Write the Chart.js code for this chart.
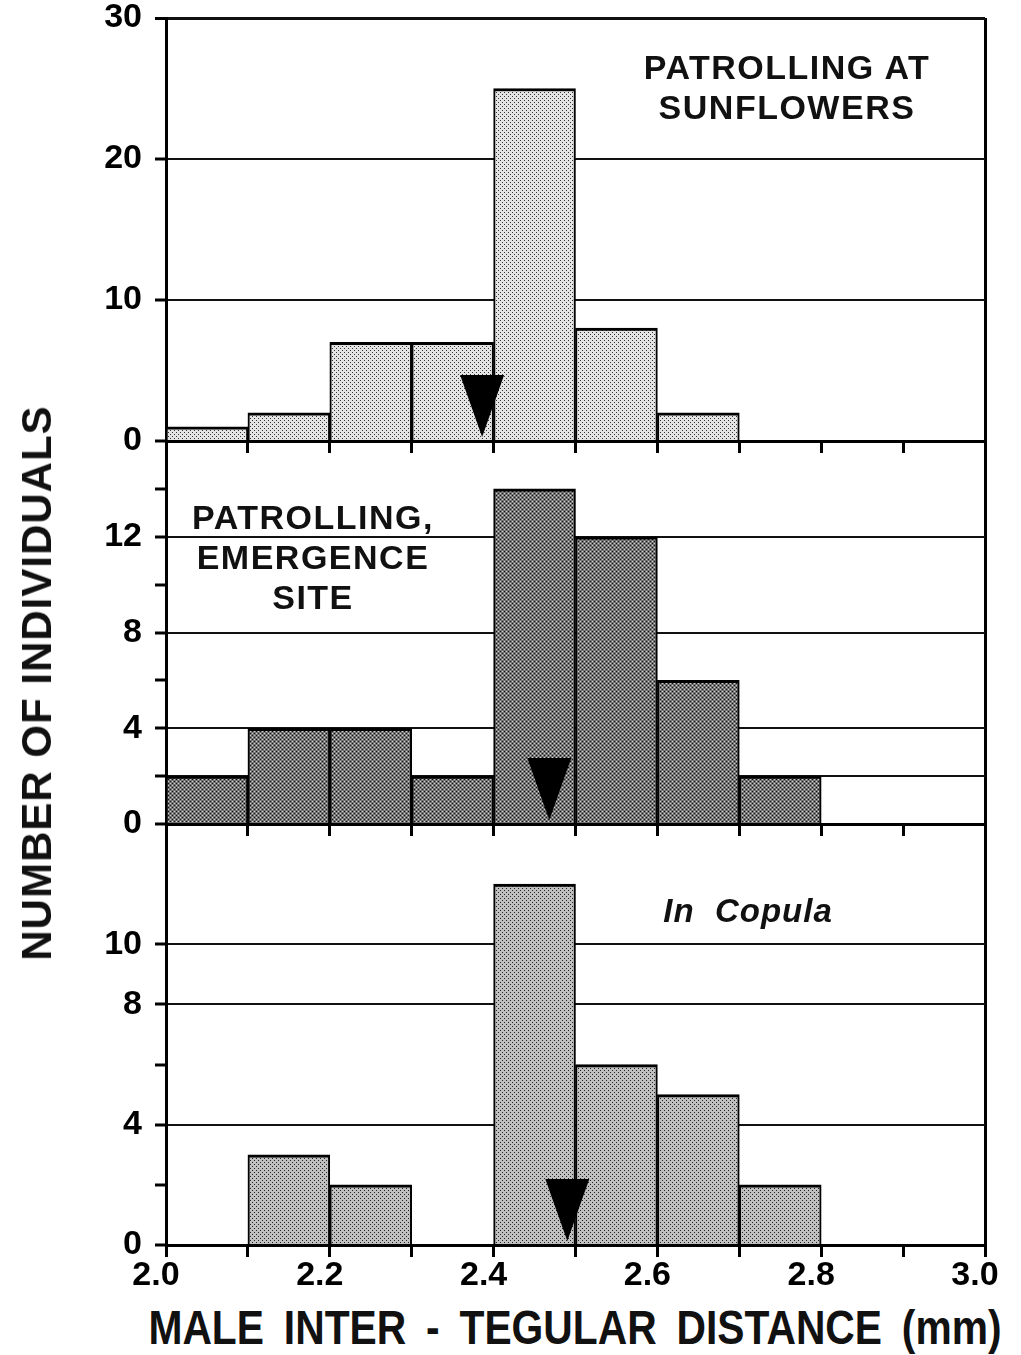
<!DOCTYPE html>
<html>
<head>
<meta charset="utf-8">
<title>Male inter-tegular distance</title>
<script src="https://cdn.jsdelivr.net/npm/chart.js@4.4.1/dist/chart.umd.min.js"></script>
<style>
  body { margin: 0; background: #fff; }
  #page { position: relative; width: 1021px; height: 1355px; overflow: hidden;
          font-family: 'Liberation Sans', Arial, sans-serif; color: #111; }
  canvas { position: absolute; }
  .note { position: absolute; font-weight: bold; white-space: nowrap; text-align: center;
          letter-spacing: 1.5px; font-size: 34px; line-height: 40px; z-index: 5; }
  #ytitle { position: absolute; left: 37px; top: 683px; font-weight: bold; font-size: 42px;
            letter-spacing: 1px; white-space: nowrap; transform: translate(-50%, -50%) rotate(-90deg); }
  #xtitle { position: absolute; left: 575px; top: 1327px; font-weight: bold; font-size: 48px;
            word-spacing: 10px; white-space: nowrap; transform: translate(-50%, -50%) scaleX(0.85); }
</style>
</head>
<body>
<div id="page">
  <canvas id="sunflowers" width="959" height="491" style="left:56px; top:-16px"></canvas>
  <canvas id="emergence" width="959" height="451" style="left:56px; top:407px"></canvas>
  <canvas id="copula" width="959" height="505" style="left:56px; top:790px"></canvas>

  <div class="note" style="left:787px; top:47px; transform:translateX(-50%)">PATROLLING AT<br>SUNFLOWERS</div>
  <div class="note" style="left:313px; top:497px; transform:translateX(-50%)">PATROLLING,<br>EMERGENCE<br>SITE</div>
  <div class="note" style="left:748px; top:891px; transform:translateX(-50%); font-style:italic; letter-spacing:1px; font-size:33px">In&nbsp; Copula</div>

  <div id="ytitle">NUMBER OF INDIVIDUALS</div>
  <div id="xtitle">MALE INTER - TEGULAR DISTANCE (mm)</div>
</div>

<script>
// histogram bins (mm), 0.1 wide
const binCentres = [2.05, 2.15, 2.25, 2.35, 2.45, 2.55, 2.65, 2.75, 2.85, 2.95];
const sunflowerCounts = [1, 2, 7, 7, 25, 8, 2, 0, 0, 0];
const emergenceCounts = [2, 4, 4, 2, 14, 12, 6, 2, 0, 0];
const copulaCounts = [0, 3, 2, 0, 12, 6, 5, 2, 0, 0];

// mean inter-tegular distance for each group (arrows)
const meanSizes = [2.386, 2.468, 2.490];

// x axis
const xTickValues = [2.0, 2.1, 2.2, 2.3, 2.4, 2.5, 2.6, 2.7, 2.8, 2.9, 3.0];
const xTickLabels = ['2.0', '', '2.2', '', '2.4', '', '2.6', '', '2.8', '', '3.0'];

// y axes: tick marks, labelled ticks, ruled lines
const sunflowerYTicks = [0, 10, 20, 30];
const sunflowerYLabels = [0, 10, 20, 30];
const sunflowerYGrid = [10, 20, 30];

const emergenceYTicks = [0, 2, 4, 6, 8, 10, 12, 14];
const emergenceYLabels = [0, 4, 8, 12];
const emergenceYGrid = [2, 4, 8, 12];

const copulaYTicks = [0, 2, 4, 6, 8, 10];
const copulaYLabels = [0, 4, 8, 10];
const copulaYGrid = [4, 8, 10];

const tickFont = "'Liberation Sans', Arial, sans-serif";

// stippled fill like a halftone screen
function stipple(bg, dot, light) {
    const c = document.createElement('canvas');
    c.width = 4; c.height = 4;
    const g = c.getContext('2d');
    g.fillStyle = bg;
    g.fillRect(0, 0, 4, 4);
    g.fillStyle = dot;
    g.fillRect(0, 0, 1, 1);
    g.fillRect(2, 2, 1, 1);
    if (light) {
        g.fillStyle = light;
        g.fillRect(2, 0, 1, 1);
        g.fillRect(0, 2, 1, 1);
    }
    return g.createPattern(c, 'repeat');
}

// black arrow marking the mean, tip resting on the baseline
const meanArrow = {
    id: 'meanArrow',
    afterDatasetsDraw(chart, args, opts) {
        const x = chart.scales.x.getPixelForValue(opts.value);
        const y = chart.scales.y.getPixelForValue(0);
        const ctx = chart.ctx;
        ctx.save();
        ctx.fillStyle = '#000';
        ctx.beginPath();
        ctx.moveTo(x, y - 4);
        ctx.lineTo(x - 22, y - 66);
        ctx.lineTo(x + 22, y - 66);
        ctx.closePath();
        ctx.fill();
        ctx.restore();
    }
};

// the y tick labels reserve about 32px above and below the plot area,
// so the padding and x axis height are set just above that
function makePanel(id, counts, fill, yMax, yTicks, yLabels, yGrid, mean, showX) {
    const ctx = document.getElementById(id).getContext('2d');
    return new Chart(ctx, {
        type: 'bar',
        data: {
            datasets: [{
                data: binCentres.map((x, i) => ({ x: x, y: counts[i] })),
                backgroundColor: fill,
                borderColor: '#000',
                borderWidth: { top: 3, left: 2, right: 2, bottom: 0 },
                borderSkipped: 'start',
                barPercentage: 1,
                categoryPercentage: 1
            }]
        },
        options: {
            responsive: false,
            animation: false,
            layout: { padding: { top: 34, right: 30, left: 0, bottom: 0 } },
            plugins: {
                legend: { display: false },
                tooltip: { enabled: false },
                meanArrow: { value: mean }
            },
            scales: {
                x: {
                    type: 'linear',
                    min: 2.0,
                    max: 3.0,
                    offset: false,
                    afterBuildTicks: s => { s.ticks = xTickValues.map(v => ({ value: v })); },
                    afterFit: s => { s.height = showX ? 50 : 34; },
                    grid: {
                        offset: false,
                        drawOnChartArea: true,
                        color: c => (c.tick && Math.abs(c.tick.value - 3.0) < 1e-6) ? '#000' : 'rgba(0,0,0,0)',
                        lineWidth: 3,
                        tickColor: '#000',
                        tickWidth: 3,
                        tickLength: 12
                    },
                    border: { display: true, color: '#000', width: 3 },
                    ticks: {
                        display: showX,
                        autoSkip: false,
                        maxRotation: 0,
                        padding: -2,
                        labelOffset: -10,
                        color: '#000',
                        font: { family: tickFont, size: 34, weight: 'bold' },
                        callback: (v, i) => xTickLabels[i]
                    }
                },
                y: {
                    min: 0,
                    max: yMax,
                    afterBuildTicks: s => { s.ticks = yTicks.map(v => ({ value: v })); },
                    afterFit: s => { s.width = 110; },
                    grid: {
                        color: c => (c.tick && yGrid.includes(c.tick.value)) ? '#111' : 'rgba(0,0,0,0)',
                        lineWidth: c => (c.tick && c.tick.value === yMax) ? 3 : 2,
                        tickColor: '#000',
                        tickWidth: 3,
                        tickLength: 11
                    },
                    border: { display: true, color: '#000', width: 3 },
                    ticks: {
                        autoSkip: false,
                        padding: 13,
                        color: '#000',
                        font: { family: tickFont, size: 34, weight: 'bold' },
                        callback: v => yLabels.includes(v) ? String(v) : ''
                    }
                }
            }
        },
        plugins: [meanArrow]
    });
}

makePanel('sunflowers', sunflowerCounts, stipple('#e4e4e4', '#333'), 30,
    sunflowerYTicks, sunflowerYLabels, sunflowerYGrid, meanSizes[0], false);
makePanel('emergence', emergenceCounts, stipple('#747474', '#111', '#d0d0d0'), 16,
    emergenceYTicks, emergenceYLabels, emergenceYGrid, meanSizes[1], false);
makePanel('copula', copulaCounts, stipple('#c0c0c0', '#222'), 14,
    copulaYTicks, copulaYLabels, copulaYGrid, meanSizes[2], true);
</script>
</body>
</html>
